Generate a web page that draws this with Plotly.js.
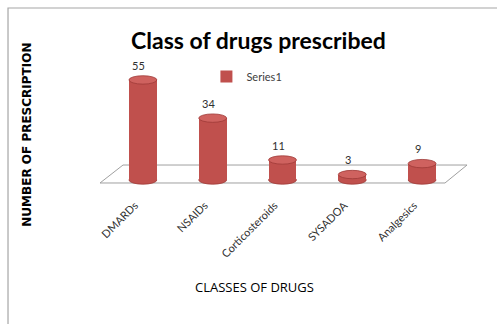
<!DOCTYPE html>
<html>
<head>
<meta charset="utf-8">
<script src="https://cdn.plot.ly/plotly-3.0.1.min.js"></script>
<style>html,body{margin:0;padding:0;background:#fff;}#chart{width:497px;height:324px;}</style>
</head>
<body>
<div id="chart"></div>
<script>
var categories = ["DMARDs", "NSAIDs", "Corticosteroids", "SYSADOA", "Analgesics"];
var values = [55, 34, 11, 3, 9];
var seriesName = "Series1";
var chartTitle = "Class of drugs prescribed";
var xTitle = "CLASSES OF DRUGS";
var yTitle = "NUMBER OF PRESCRIPTION";

var FONT = "Lato, 'Open Sans', sans-serif";
var barColor = "#C0504D";
var topColor = "#CF625F";
var edgeColor = "#9E3A37";
var halfW = 0.2, ellH = 2.3;

var idx = categories.map(function(c, i){ return i; });

var shapes = [
  // chart frame
  {type:"path", xref:"paper", yref:"paper", path:"M -0.2865,-1.2 L -0.2865,1.348 L 1.3,1.348",
   line:{color:"#A6A6A6", width:1.2}, layer:"below"},
  // floor
  {type:"path", xref:"paper", yref:"paper",
   path:"M -0.0229,0.0519 L 0.043,0.185 L 1.0287,0.185 L 0.9656,0.0519 Z",
   line:{color:"#A0A0A0", width:1}, fillcolor:"rgba(0,0,0,0)", layer:"below"}
];
idx.forEach(function(i){
  shapes.push({type:"circle", xref:"x", yref:"y", x0:i-halfW, x1:i+halfW, y0:-ellH, y1:ellH,
    fillcolor:barColor, line:{color:edgeColor, width:0.8}, layer:"below"});
  shapes.push({type:"circle", xref:"x", yref:"y", x0:i-halfW, x1:i+halfW, y0:values[i]-ellH, y1:values[i]+ellH,
    fillcolor:topColor, line:{color:edgeColor, width:0.8}, layer:"above"});
});

var annotations = idx.map(function(i){
  return {x:i, y:values[i]+ellH, xref:"x", yref:"y", text:String(values[i]), showarrow:false,
    yanchor:"bottom", yshift:2, xshift:-4, font:{family:FONT, size:11, color:"#303030"}};
});
annotations.push({xref:"paper", yref:"paper", x:0.421, y:-0.719, xanchor:"center", yanchor:"middle",
  text:xTitle, showarrow:false, font:{family:"'Open Sans', sans-serif", size:13, color:"#000"}});
annotations.push({xref:"paper", yref:"paper", x:-0.232, y:0.41, xanchor:"center", yanchor:"middle",
  text:"<b>"+yTitle+"</b>", showarrow:false,
  textangle:-90, font:{family:"'DejaVu Sans', sans-serif", size:12, color:"#000"}});

var trace = {
  type:"bar", x:idx, y:values, name:seriesName, width:2*halfW,
  marker:{color:barColor, line:{width:0}}, showlegend:true
};

var layout = {
  width:497, height:324,
  margin:{l:108, r:40, t:55, b:134, pad:0},
  paper_bgcolor:"#fff", plot_bgcolor:"rgba(0,0,0,0)",
  title:{text:"<b>"+chartTitle+"</b>", x:0.52, xref:"container", y:0.875, yref:"container",
    xanchor:"center", yanchor:"middle", font:{family:FONT, size:23, color:"#000"}},
  xaxis:{range:[-0.5,4.5], tickmode:"array", tickvals:idx, ticktext:categories, tickangle:-45,
    showgrid:false, zeroline:false, showline:false, ticks:"",
    ticklabelstandoff:6, ticklabelshift:-8,
    tickfont:{family:FONT, size:11, color:"#303030"}},
  yaxis:{range:[-5.5,68.7], visible:false, showgrid:false, zeroline:false},
  legend:{x:0.282, y:0.84, xanchor:"left", yanchor:"middle", bgcolor:"rgba(0,0,0,0)",
    font:{family:FONT, size:11, color:"#404040"}},
  shapes:shapes, annotations:annotations, bargap:0
};

Plotly.newPlot("chart", [trace], layout, {displayModeBar:false, staticPlot:true});
</script>
</body>
</html>
